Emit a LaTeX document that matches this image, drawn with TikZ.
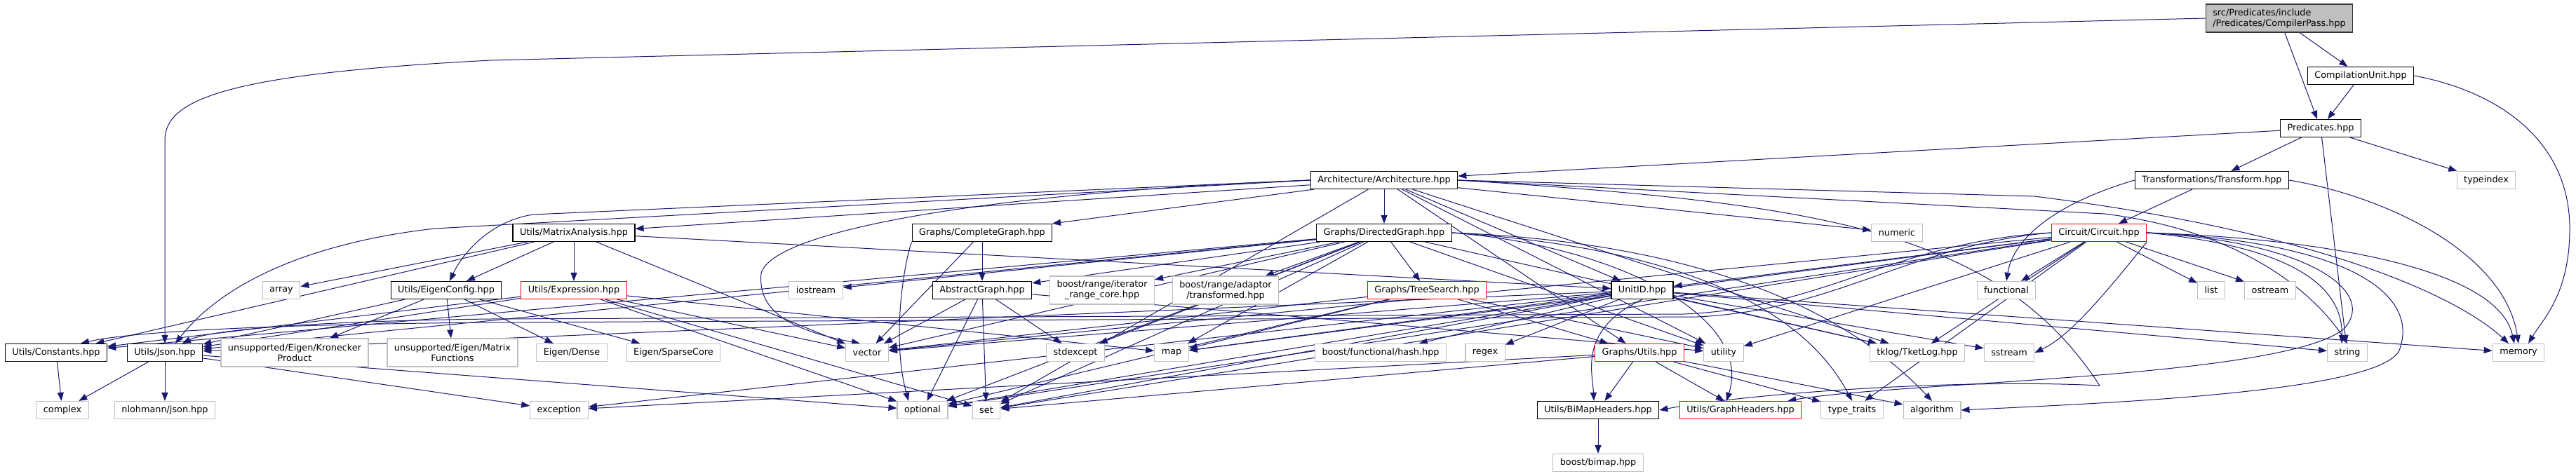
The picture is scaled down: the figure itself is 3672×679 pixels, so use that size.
\documentclass[tikz,border=0pt]{standalone}
\usepackage{fontspec}
\setmainfont{DejaVu Sans}
\usetikzlibrary{positioning,arrows.meta,backgrounds}

\definecolor{edgeblue}{RGB}{25,25,112}
\definecolor{syscol}{RGB}{191,191,191}

\begin{document}
\begin{tikzpicture}[x=1pt, y=-1pt, >={Triangle[length=12pt, width=9pt]},
  hdr/.style={draw=black, line width=1.2pt, fill=white, font=\fontsize{12.8}{15}\selectfont, inner xsep=10pt, inner ysep=0pt, minimum height=25pt},
  syshdr/.style={hdr, draw=syscol},
  cuthdr/.style={hdr, draw=red},
  roothdr/.style={hdr, fill=syscol, draw=black!80, align=left, minimum height=40pt},
  twoline/.style={align=center, minimum height=40pt},
  inc/.style={->, color=edgeblue, line width=1pt}]
  \useasboundingbox (0,0) rectangle (3672,679);

  % top of the graph
  \node[roothdr] (cpass) at (3249,26) {src/Predicates/include\\/Predicates/CompilerPass.hpp};
  \node[hdr] (cunit) at (3365,108) {CompilationUnit.hpp};
  \node[hdr] (pred) at (3308,183) {Predicates.hpp};
  \node[hdr] (arch) at (1973,257) {Architecture/Architecture.hpp};
  \node[hdr] (transform) at (3153,257) {Transformations/Transform.hpp};
  \node[syshdr] (typeindex) at (3544,257) {typeindex};

  \node[hdr] (matrix) at (818,332) {Utils/MatrixAnalysis.hpp};
  \node[hdr] (complete) at (1400,332) {Graphs/CompleteGraph.hpp};
  \node[hdr] (directed) at (1973,332) {Graphs/DirectedGraph.hpp};
  \node[syshdr] (numeric) at (2704,332) {numeric};
  \node[cuthdr] (circuit) at (2992,332) {Circuit/Circuit.hpp};

  \node[syshdr] (array) at (401,414) {array};
  \node[hdr] (eigencfg) at (636,414) {Utils/EigenConfig.hpp};
  \node[cuthdr] (expression) at (818,414) {Utils/Expression.hpp};
  \node[syshdr] (iostream) at (1163,414) {iostream};
  \node[hdr] (abstract) at (1400,414) {AbstractGraph.hpp};
  \node[syshdr, twoline] (iterrange) at (1571,414) {boost/range/iterator\\\_range\_core.hpp};
  \node[syshdr, twoline] (transformed) at (1747,414) {boost/range/adaptor\\/transformed.hpp};
  \node[cuthdr] (treesearch) at (2034,414) {Graphs/TreeSearch.hpp};
  \node[hdr] (unitid) at (2341,414) {UnitID.hpp};
  \node[syshdr] (functional) at (2860,414) {functional};
  \node[syshdr] (list) at (3152,414) {list};
  \node[syshdr] (ostream) at (3236,414) {ostream};

  \node[hdr] (constants) at (80,503) {Utils/Constants.hpp};
  \node[hdr] (json) at (235,503) {Utils/Json.hpp};
  \node[syshdr, twoline] (kron) at (420,503) {unsupported/Eigen/Kronecker\\Product};
  \node[syshdr, twoline] (matfun) at (645,503) {unsupported/Eigen/Matrix\\Functions};
  \node[syshdr] (dense) at (815,503) {Eigen/Dense};
  \node[syshdr] (sparse) at (960,503) {Eigen/SparseCore};
  \node[syshdr] (vector) at (1236,503) {vector};
  \node[syshdr] (stdexcept) at (1533,503) {stdexcept};
  \node[syshdr] (map) at (1670,503) {map};
  \node[syshdr] (fhash) at (1968,503) {boost/functional/hash.hpp};
  \node[syshdr] (regex) at (2117,503) {regex};
  \node[cuthdr] (gutils) at (2337,503) {Graphs/Utils.hpp};
  \node[syshdr] (utility) at (2457,503) {utility};
  \node[syshdr] (tketlog) at (2733,503) {tklog/TketLog.hpp};
  \node[syshdr] (sstream) at (2864,503) {sstream};
  \node[syshdr] (string) at (3346,503) {string};
  \node[syshdr] (memory) at (3590,503) {memory};

  \node[syshdr] (complex) at (89,585) {complex};
  \node[syshdr] (nlohmann) at (235,585) {nlohmann/json.hpp};
  \node[syshdr] (exception) at (797,585) {exception};
  \node[syshdr] (optional) at (1315,585) {optional};
  \node[syshdr] (set) at (1406,585) {set};
  \node[hdr] (bimaph) at (2278,585) {Utils/BiMapHeaders.hpp};
  \node[cuthdr] (graphh) at (2481,585) {Utils/GraphHeaders.hpp};
  \node[syshdr] (typetraits) at (2640,585) {type\_traits};
  \node[syshdr] (algorithm) at (2754,585) {algorithm};
  \node[syshdr] (bimap) at (2278,660) {boost/bimap.hpp};

  \begin{scope}[on background layer]
  % CompilerPass and its direct includes
  \draw[inc] (cpass.west) -- (700,86) .. controls (330,105) and (235,140) .. (235,200) -- (json.north);
  \draw[inc] (cpass) -- (pred);
  \draw[inc] (cpass) -- (cunit);
  \draw[inc] (cunit) -- (pred);
  \draw[inc] (cunit.east) .. controls (3560,130) and (3665,200) .. (3663,330) .. controls (3662,420) and (3625,455) .. ([xshift=14pt]memory.north);
  \draw[inc] (pred) -- (arch);
  \draw[inc] (pred) -- (transform);
  \draw[inc] (pred) -- (typeindex);
  \draw[inc] (pred) -- (string);
  \draw[inc] (transform) -- (circuit);
  \draw[inc] (transform.west) .. controls (2930,290) and (2870,340) .. (functional.north);
  \draw[inc] (transform.east) .. controls (3400,280) and (3570,360) .. (memory.north);

  % Architecture
  \draw[inc] (arch) -- (matrix);
  \draw[inc] (arch) -- (complete);
  \draw[inc] (arch) -- (directed);
  \draw[inc] (arch) -- (numeric);
  \draw[inc] (arch) -- (unitid);
  \draw[inc] (arch.west) -- (620,326) .. controls (450,345) and (320,400) .. ([xshift=15pt]json.north);
  \draw[inc] (arch.west) -- (760,306) .. controls (700,315) and (660,360) .. ([xshift=5pt]eigencfg.north);
  \draw[inc] (arch.west) .. controls (1400,275) and (1100,330) .. (1085,390) .. controls (1080,440) and (1120,470) .. ([xshift=-10pt]vector.north);
  \draw[inc] (arch) -- (gutils);
  \draw[inc] (arch) -- (tketlog);
  \draw[inc] (arch) -- (utility);
  \draw[inc] (arch) -- (set);
  \draw[inc] (arch.east) -- (3000,305) .. controls (3200,330) and (3300,420) .. (string.north);
  \draw[inc] (arch.east) -- (2900,280) .. controls (3300,330) and (3500,420) .. ([xshift=-14pt]memory.north);
  \draw[inc] (arch.east) .. controls (2600,290) and (2850,330) .. (2993,550) .. controls (2800,540) and (2500,560) .. (bimaph.east);

  % Utils headers
  \draw[inc] (matrix) -- (eigencfg);
  \draw[inc] (matrix) -- (expression);
  \draw[inc] (matrix) -- (vector);
  \draw[inc] (matrix) -- (constants);
  \draw[inc] (matrix) -- (array);
  \draw[inc] (matrix) -- (unitid);
  \draw[inc] (eigencfg) -- (json);
  \draw[inc] (eigencfg) -- (kron);
  \draw[inc] (eigencfg) -- (matfun);
  \draw[inc] (eigencfg) -- (dense);
  \draw[inc] (eigencfg) -- (sparse);
  \draw[inc] (expression) -- (json);
  \draw[inc] (expression) -- (constants);
  \draw[inc] (expression) -- (vector);
  \draw[inc] (expression) -- (set);
  \draw[inc] (expression) -- (optional);
  \draw[inc] (expression) -- (map);
  \draw[inc] (json) -- (complex);
  \draw[inc] (json) -- (nlohmann);
  \draw[inc] (json) -- (exception);
  \draw[inc] (json) -- (optional);
  \draw[inc] (constants) -- (complex);

  % graphs
  \draw[inc] (complete) -- (abstract);
  \draw[inc] (complete) -- (vector);
  \draw[inc] (complete.south west) .. controls (1290,370) and (1270,480) .. ([xshift=-20pt]optional.north);
  \draw[inc] (abstract) -- (vector);
  \draw[inc] (abstract) -- (optional);
  \draw[inc] (abstract) -- (set);
  \draw[inc] (abstract) -- (stdexcept);
  \draw[inc] (abstract) -- (utility);
  \draw[inc] (directed) -- (abstract);
  \draw[inc] (directed) -- (iterrange);
  \draw[inc] (directed) -- (transformed);
  \draw[inc] (directed) -- (treesearch);
  \draw[inc] (directed) -- (iostream);
  \draw[inc] (directed) -- (json);
  \draw[inc] (directed) -- (constants);
  \draw[inc] (directed) -- (vector);
  \draw[inc] (directed) -- (map);
  \draw[inc] (directed) -- (set);
  \draw[inc] (directed) -- (optional);
  \draw[inc] (directed) -- (stdexcept);
  \draw[inc] (directed) -- (utility);
  \draw[inc] (directed.east) .. controls (2350,350) and (2560,420) .. (typetraits.north);
  \draw[inc] (directed.east) .. controls (2400,345) and (2620,430) .. (algorithm.north);
  \draw[inc] (directed.east) .. controls (2300,350) and (2500,450) .. ([xshift=-20pt]graphh.north);
  \draw[inc] (directed) -- (tketlog);
  \draw[inc] (treesearch) -- (gutils);
  \draw[inc] (treesearch) -- (utility);
  \draw[inc] (treesearch) -- (map);
  \draw[inc] (treesearch) -- (vector);
  \draw[inc] (treesearch) -- (optional);
  \draw[inc] (gutils) -- (bimaph);
  \draw[inc] (gutils) -- (graphh);
  \draw[inc] (gutils) -- (typetraits);
  \draw[inc] (gutils) -- (algorithm);
  \draw[inc] (gutils) -- (set);
  \draw[inc] (gutils) -- (exception);
  \draw[inc] (bimaph) -- (bimap);

  % UnitID
  \draw[inc] (unitid) -- (json);
  \draw[inc] (unitid) -- (fhash);
  \draw[inc] (unitid) -- (regex);
  \draw[inc] (unitid.south) .. controls (2250,470) and (2270,530) .. ([xshift=-6pt]bimaph.north);
  \draw[inc] (unitid) -- (exception);
  \draw[inc] (unitid) -- (map);
  \draw[inc] (unitid) -- (set);
  \draw[inc] (unitid) -- (vector);
  \draw[inc] (unitid) -- (optional);
  \draw[inc] (unitid) -- (tketlog);
  \draw[inc] (unitid) -- (sstream);
  \draw[inc] (unitid) -- (string);
  \draw[inc] (unitid) -- (memory);

  % Circuit
  \draw[inc] (circuit) -- (functional);
  \draw[inc] (circuit) -- (list);
  \draw[inc] (circuit) -- (ostream);
  \draw[inc] (circuit.south east) .. controls (3000,420) and (2950,480) .. (sstream.east);
  \draw[inc] (circuit.east) .. controls (3250,350) and (3340,400) .. ([xshift=-8pt]string.north);
  \draw[inc] (circuit.east) .. controls (3300,340) and (3560,380) .. ([xshift=-6pt]memory.north);
  \draw[inc] (circuit) -- (utility);
  \draw[inc] (circuit) -- (tketlog);
  \draw[inc] (circuit) -- (unitid);
  \draw[inc] (circuit.east) .. controls (3350,345) and (3450,420) .. (3420,500) .. controls (3390,560) and (3000,575) .. (algorithm.east);
  \draw[inc] (circuit.east) .. controls (3300,345) and (3390,420) .. (3340,470) .. controls (3250,540) and (2700,545) .. ([xshift=-20pt]graphh.north east);
  \draw[inc] (circuit) -- (typetraits);
  \draw[inc] (circuit) -- (map);
  \draw[inc] (circuit) -- (vector);
  \draw[inc] (circuit) -- (optional);
  \draw[inc] (circuit) -- (set);
  \draw[inc] (circuit.west) .. controls (2700,345) and (2600,440) .. (2400,448) -- (700,455) .. controls (450,458) and (300,470) .. ([xshift=25pt]json.north);
  \draw[inc] (circuit.west) .. controls (2720,350) and (2620,442) .. (2420,452) -- (700,460) .. controls (450,462) and (200,470) .. ([xshift=35pt]constants.north);
  \end{scope}
\end{tikzpicture}
\end{document}
